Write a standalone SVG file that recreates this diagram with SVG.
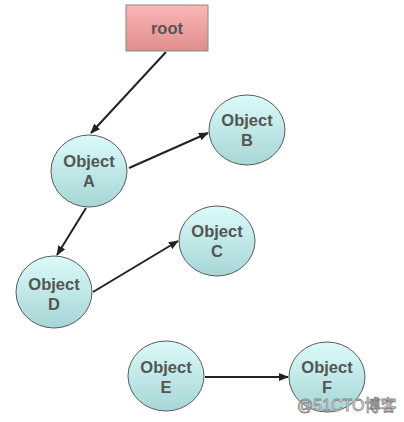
<svg xmlns="http://www.w3.org/2000/svg" width="404" height="422" viewBox="0 0 404 422">
<defs>
<linearGradient id="gr" x1="0" y1="0" x2="0" y2="1"><stop offset="0" stop-color="#fbb6b6"/><stop offset="1" stop-color="#e08c8c"/></linearGradient>
<linearGradient id="gc" x1="0" y1="0" x2="0" y2="1"><stop offset="0" stop-color="#dcfafa"/><stop offset="1" stop-color="#a6d6d6"/></linearGradient>
<marker id="ah" markerWidth="10" markerHeight="8" refX="9" refY="4" orient="auto" markerUnits="userSpaceOnUse"><path d="M0,0 L10,4 L0,8 z" fill="#222"/></marker>
</defs>
<style>
.n{fill:url(#gc);stroke:#5a5a5a;stroke-width:1}
.t{font-family:"Liberation Sans",Arial,sans-serif;font-weight:bold;font-size:16.5px;fill:#555;text-anchor:middle}
.c{stroke:#222;stroke-width:2;fill:none;marker-end:url(#ah)}
</style>
<rect width="404" height="422" fill="#fff"/>
<g id="connectors">
<line class="c" x1="166" y1="52" x2="91" y2="133"/>
<line class="c" x1="129" y1="168" x2="208" y2="133"/>
<line class="c" x1="86" y1="208" x2="57" y2="255"/>
<line class="c" x1="93" y1="292" x2="178" y2="241"/>
<line class="c" x1="205" y1="377" x2="288" y2="377" stroke-width="1.6"/>
</g>
<g id="root"><rect x="126" y="5" width="82" height="46" fill="url(#gr)" stroke="#8a8a8a"/><text class="t" x="167" y="34">root</text></g>
<g id="A"><ellipse class="n" cx="89" cy="171" rx="38" ry="36"/><text class="t" x="89" y="167">Object</text><text class="t" x="89" y="187">A</text></g>
<g id="B"><ellipse class="n" cx="247" cy="130" rx="38" ry="35"/><text class="t" x="247" y="126">Object</text><text class="t" x="247" y="146">B</text></g>
<g id="C"><ellipse class="n" cx="217" cy="241" rx="38" ry="35"/><text class="t" x="217" y="237">Object</text><text class="t" x="217" y="257">C</text></g>
<g id="D"><ellipse class="n" cx="54" cy="292" rx="38" ry="36"/><text class="t" x="54" y="290">Object</text><text class="t" x="54" y="310">D</text></g>
<g id="E"><ellipse class="n" cx="166" cy="376" rx="38" ry="35"/><text class="t" x="166" y="373">Object</text><text class="t" x="166" y="393">E</text></g>
<g id="F"><ellipse class="n" cx="327" cy="377" rx="38" ry="35"/><text class="t" x="327" y="373">Object</text><text class="t" x="327" y="393">F</text></g>
<text x="297" y="411" font-family="'Liberation Sans','Noto Sans CJK SC',sans-serif" font-size="16" fill="#fff" stroke="#888" stroke-width="0.8">@51CTO博客</text>
</svg>
